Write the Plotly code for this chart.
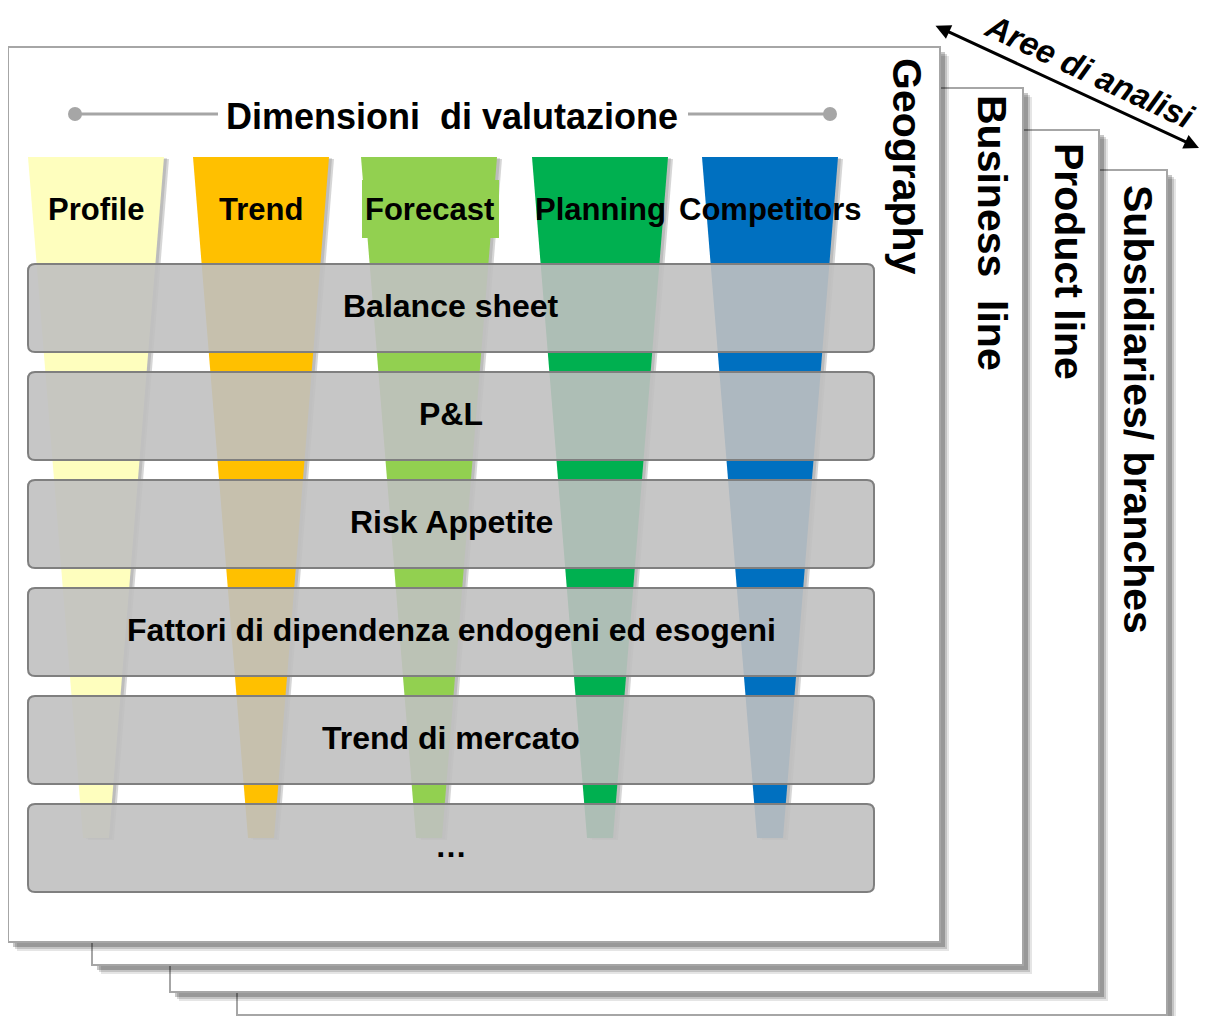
import plotly.graph_objects as go

# ---------------- data ----------------
title_text = "Dimensioni  di valutazione"
dimensions = ["Profile", "Trend", "Forecast", "Planning", "Competitors"]
dim_colors = ["#FEFEBE", "#FFC000", "#92D050", "#00B050", "#0070C0"]
rows = ["Balance sheet", "P&L", "Risk Appetite",
        "Fattori di dipendenza endogeni ed esogeni", "Trend di mercato", "…"]
areas = ["Geography", "Business  line", "Product line", "Subsidiaries/ branches"]
arrow_label = "Aree di analisi"

# ---------------- layout constants (pixels) ----------------
W, H = 1209, 1016
BODY = 8  # default page margin of the html body
FONT = "Liberation Sans, Arial, Helvetica, sans-serif"
pages = [(8, 47, 940, 942), (92, 88, 1023, 965), (170, 130, 1099, 992), (237, 170, 1167, 1015)]
area_label_pos = [(907, 166), (992, 233), (1069, 261), (1138, 409)]
funnel_centers = [96, 261, 429, 600, 770]
funnel_top, funnel_bot = 157, 838
funnel_wtop, funnel_wbot = 136, 26
label_y = 209
box_x0, box_x1 = 28, 874
box_top0, box_h, box_pitch = 264, 88, 108
title_y = 116

shapes = []
annotations = []

def rrect(x0, y0, x1, y1, r):
    return (f"M {x0+r},{y0} H {x1-r} Q {x1},{y0} {x1},{y0+r} V {y1-r} "
            f"Q {x1},{y1} {x1-r},{y1} H {x0+r} Q {x0},{y1} {x0},{y1-r} "
            f"V {y0+r} Q {x0},{y0} {x0+r},{y0} Z")

# pages, back to front
for (x0, y0, x1, y1) in reversed(pages):
    for off, a in [(9, 0.10), (7, 0.15), (5, 0.22)]:
        shapes.append(dict(type="rect", x0=x0 + off, y0=y0 + off, x1=x1 + off, y1=y1 + off,
                           fillcolor=f"rgba(0,0,0,{a})", line=dict(width=0)))
    shapes.append(dict(type="rect", x0=x0, y0=y0, x1=x1, y1=y1,
                       fillcolor="white", line=dict(color="#A6A6A6", width=2)))

# title decoration
shapes.append(dict(type="line", x0=75, y0=title_y - 2, x1=218, y1=title_y - 2,
                   line=dict(color="#A6A6A6", width=3)))
shapes.append(dict(type="line", x0=688, y0=title_y - 2, x1=830, y1=title_y - 2,
                   line=dict(color="#A6A6A6", width=3)))
for cx in (75, 830):
    shapes.append(dict(type="circle", x0=cx - 7, y0=title_y - 9, x1=cx + 7, y1=title_y + 5,
                       fillcolor="#A6A6A6", line=dict(width=0)))
annotations.append(dict(x=452, y=title_y, text=f"<b>{title_text}</b>", showarrow=False,
                        font=dict(family=FONT, size=36, color="black"),
                        xanchor="center", yanchor="middle"))

# funnels
def trap(cx, dx=0, dy=0):
    return (f"M {cx - funnel_wtop/2 + dx},{funnel_top + dy} L {cx + funnel_wtop/2 + dx},{funnel_top + dy} "
            f"L {cx + funnel_wbot/2 + dx},{funnel_bot + dy} L {cx - funnel_wbot/2 + dx},{funnel_bot + dy} Z")

for cx, col in zip(funnel_centers, dim_colors):
    shapes.append(dict(type="path", path=trap(cx, 5, 2), fillcolor="rgba(0,0,0,0.16)", line=dict(width=0)))
    shapes.append(dict(type="path", path=trap(cx, 3, 1), fillcolor="rgba(0,0,0,0.12)", line=dict(width=0)))
    shapes.append(dict(type="path", path=trap(cx), fillcolor=col, line=dict(width=0)))

# forecast text box fill
fi = dimensions.index("Forecast")
shapes.append(dict(type="rect", x0=funnel_centers[fi] - 67, y0=180, x1=funnel_centers[fi] + 70, y1=238,
                   fillcolor=dim_colors[fi], line=dict(width=0)))

for cx, name in zip(funnel_centers, dimensions):
    annotations.append(dict(x=cx, y=label_y, text=f"<b>{name}</b>", showarrow=False,
                            font=dict(family=FONT, size=31, color="black"),
                            xanchor="center", yanchor="middle"))

# rows
for i, name in enumerate(rows):
    y0 = box_top0 + i * box_pitch
    y1 = y0 + box_h
    shapes.append(dict(type="path", path=rrect(box_x0, y0, box_x1, y1, 7),
                       fillcolor="rgba(192,192,192,0.9)", line=dict(color="#7F7F7F", width=2)))
    txt = name.replace("&", "&amp;")
    annotations.append(dict(x=(box_x0 + box_x1) / 2, y=(y0 + y1) / 2 - 2, text=f"<b>{txt}</b>",
                            showarrow=False, font=dict(family=FONT, size=32, color="black"),
                            xanchor="center", yanchor="middle"))

# area labels (vertical)
for (x, y), name in zip(area_label_pos, areas):
    annotations.append(dict(x=x, y=y, text=f"<b>{name}</b>", showarrow=False, textangle=90,
                            font=dict(family=FONT, size=41, color="black"),
                            xanchor="center", yanchor="middle"))

# double arrow
annotations.append(dict(x=1199, y=148, ax=934, ay=25, axref="x", ayref="y", xref="x", yref="y",
                        text="", showarrow=True, arrowhead=2, startarrowhead=2,
                        arrowside="end+start", arrowwidth=3, arrowsize=1, startarrowsize=1,
                        arrowcolor="black"))
annotations.append(dict(x=1090, y=71, text=f"<b><i>{arrow_label}</i></b>", showarrow=False,
                        textangle=25, font=dict(family=FONT, size=33, color="black"),
                        xanchor="center", yanchor="middle"))

fig = go.Figure()
fig.update_layout(
    width=W - BODY, height=H - BODY, margin=dict(l=0, r=0, t=0, b=0, pad=0),
    paper_bgcolor="white", plot_bgcolor="white",
    xaxis=dict(range=[BODY, W], visible=False, fixedrange=True),
    yaxis=dict(range=[H, BODY], visible=False, fixedrange=True),
    shapes=shapes, annotations=annotations, showlegend=False,
)
fig.write_html("out.html")
